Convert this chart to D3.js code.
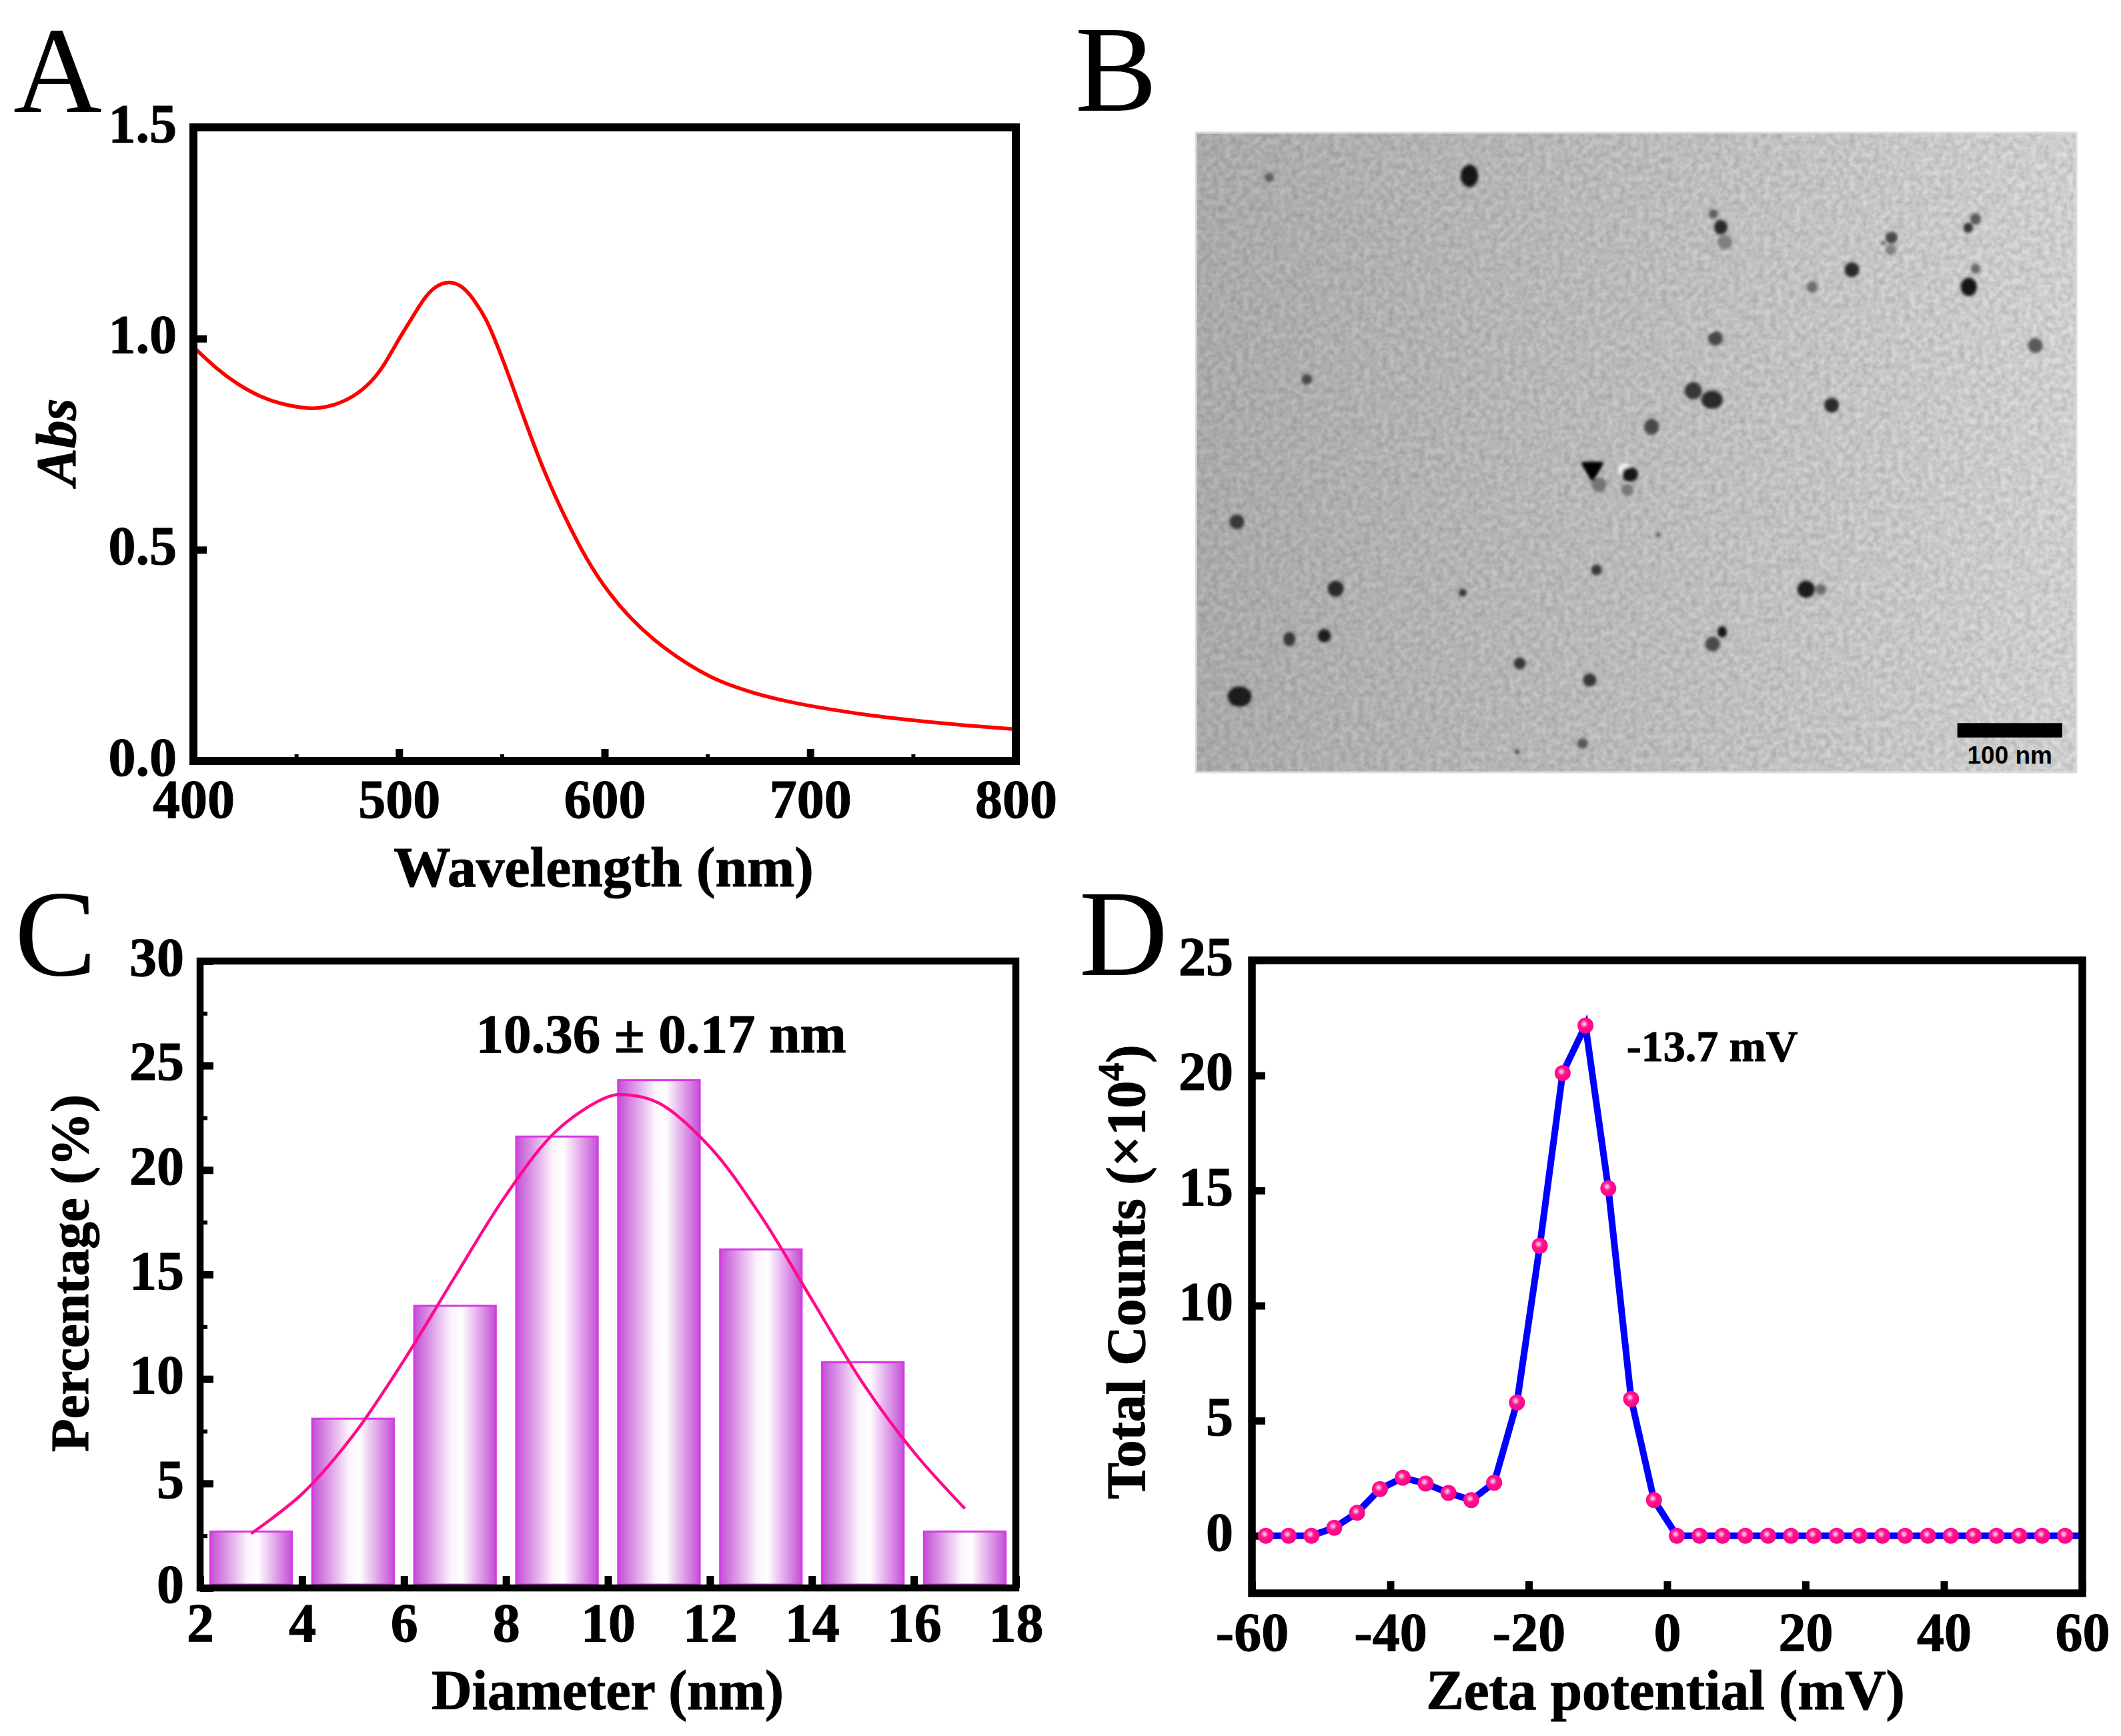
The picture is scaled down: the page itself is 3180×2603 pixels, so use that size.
<!DOCTYPE html>
<html>
<head>
<meta charset="utf-8">
<script src="https://d3js.org/d3.v7.min.js"></script>
<style>
  html, body { margin: 0; padding: 0; background: #fff; }
  text { font-family: "Liberation Serif", serif; font-weight: bold; fill: #000; stroke: #000; stroke-width: 1.1px; }
  .panel { font-weight: normal; font-size: 184px; stroke: none; }
  .plain { stroke: none; }
</style>
</head>
<body>
<svg id="fig" width="3180" height="2603"></svg>
<script>
  // A - absorbance spectrum
  var absWave = [400,410.8,421.6,432.4,443.3,454,460.6,469.2,477.9,486.5,493,499.5,506,512.5,517.9,524.4,530.8,536.3,542.7,548.1,553.6,558.9,569.8,580.6,591.4,602.2,613,623.8,634.6,645.5,656.3,672.5,688.7,700,725,750,775,800];
  var absVal = [0.98,0.93,0.891,0.862,0.844,0.835,0.834,0.843,0.862,0.896,0.938,0.996,1.046,1.099,1.125,1.137,1.125,1.094,1.045,0.98,0.91,0.837,0.692,0.577,0.474,0.396,0.335,0.287,0.248,0.214,0.187,0.160,0.141,0.130,0.110,0.096,0.084,0.075];

  // B - particles in the micrograph, read in field units
  var temX = [301,599,962,973,979,1227,1215,1226,1352,1341,1168,1109,1352,1342,965,1441,357,932,960,1138,870,792,838,834,1108,253,880,788,400,589,1100,1122,975,961,331,383,1345,674,778,257,767,670];
  var temY = [321,318,387,411,438,430,440,452,396,412,488,519,486,519,612,625,686,707,723,733,772,877,858,886,859,944,967,1031,1065,1072,1066,1066,1143,1165,1156,1150,1154,1200,1230,1260,1345,1360];
  var temR = [7,13,7,10,11,9,3,8,8,7,11,8,7,12,11,11,8,13,16,11,11,11,12,9,1.5,11,3.5,8,12,6,13,8,7,11,9,10,1.5,9,10,18,8,3.5];
  var temElong = [1.0,1.3,1.0,1.1,1.0,1.0,1.0,1.0,1.1,1.1,1.0,1.1,1.1,1.15,1.0,1.0,1.0,1.0,0.85,1.0,1.1,1.0,0.9,1.0,1.2,1.0,1.0,1.0,1.0,1.0,1.0,1.0,1.2,1.0,1.2,1.0,1.0,1.0,1.0,0.85,1.0,1.0];
  var temShade = ["#5e5e5e","#141414","#5e5e5e","#2c2c2c","#808080","#484848","#5a5a5a","#828282","#5a5a5a","#343434","#2c2c2c","#6e6e6e","#6a6a6a","#181818","#484848","#5a5a5a","#484848","#383838","#2a2a2a","#2c2c2c","#484848","#747474","#181818","#787878","#7a7a7a","#383838","#5a5a5a","#383838","#2c2c2c","#383838","#1c1c1c","#6a6a6a","#181818","#484848","#383838","#1e1e1e","#7a7a7a","#383838","#383838","#1c1c1c","#5a5a5a","#484848"];
  var triX = [782], triY = [848];
  var haloX = [830, 960, 596], haloY = [850, 600, 303], haloR = [10, 4, 4];

  // C - size histogram
  var diaCenter = [3,5,7,9,11,13,15,17];
  var diaPct = [2.7,8.1,13.5,21.6,24.3,16.2,10.8,2.7];
  var fitX = [3,4,5,6,7,8,9,10,10.36,11,12,13,14,15,16,17];
  var fitY = [2.6,4.5,7.3,10.9,14.9,18.8,21.9,23.5,23.6,23.2,21.1,17.8,13.8,9.8,6.5,3.8];

  // D - zeta potential
  var zetaX = [-58,-54.7,-51.4,-48.1,-44.8,-41.5,-38.2,-34.9,-31.6,-28.3,-25,-21.7,-18.4,-15.1,-11.8,-8.5,-5.2,-1.9,1.4,4.7,8,11.3,14.6,17.9,21.2,24.5,27.8,31.1,34.4,37.7,41,44.3,47.6,50.9,54.2,57.5];
  var zetaY = [0,0,0,0.35,1.0,2.03,2.52,2.27,1.86,1.55,2.3,5.79,12.6,20.1,22.17,15.1,5.94,1.55,0,0,0,0,0,0,0,0,0,0,0,0,0,0,0,0,0,0];

  var svg = d3.select("#fig");
  var defs = svg.append("defs");

  var barGrad = defs.append("linearGradient").attr("id", "barGrad");
  barGrad.append("stop").attr("offset", "0%").attr("stop-color", "#c44fd6");
  barGrad.append("stop").attr("offset", "45%").attr("stop-color", "#fbf3fb");
  barGrad.append("stop").attr("offset", "58%").attr("stop-color", "#ffffff");
  barGrad.append("stop").attr("offset", "100%").attr("stop-color", "#c44fd6");

  var dotGrad = defs.append("radialGradient").attr("id", "dotGrad").attr("cx", "42%").attr("cy", "40%").attr("r", "60%");
  dotGrad.append("stop").attr("offset", "0%").attr("stop-color", "#ffcfe8");
  dotGrad.append("stop").attr("offset", "15%").attr("stop-color", "#ff9fd0");
  dotGrad.append("stop").attr("offset", "40%").attr("stop-color", "#ff1290");
  dotGrad.append("stop").attr("offset", "100%").attr("stop-color", "#fb0585");

  var temGrad = defs.append("linearGradient").attr("id", "temGrad").attr("x1", "0").attr("y1", "0").attr("x2", "1").attr("y2", "0");
  temGrad.append("stop").attr("offset", "0%").attr("stop-color", "#b6b6b6");
  temGrad.append("stop").attr("offset", "50%").attr("stop-color", "#c8c8c8");
  temGrad.append("stop").attr("offset", "100%").attr("stop-color", "#dedede");

  var grain = defs.append("filter").attr("id", "grain").attr("x", 0).attr("y", 0).attr("width", "100%").attr("height", "100%");
  grain.append("feTurbulence").attr("type", "fractalNoise").attr("baseFrequency", 0.11).attr("numOctaves", 2).attr("seed", 4);
  grain.append("feColorMatrix").attr("type", "matrix").attr("values", "0 0 0 0 0  0 0 0 0 0  0 0 0 0 0  0.26 0 0 0 -0.06");

  var soft = defs.append("filter").attr("id", "soft");
  soft.append("feGaussianBlur").attr("stdDeviation", 2.2);

  function frame(box) {
    svg.append("rect")
      .attr("x", box.l).attr("y", box.t)
      .attr("width", box.r - box.l).attr("height", box.b - box.t)
      .attr("fill", "none").attr("stroke", "#000").attr("stroke-width", box.sw);
  }

  // inward ticks, no domain line, the frame takes care of that
  function axisX(box, x, major, minor, fmt, size) {
    if (minor) {
      svg.append("g").attr("transform", `translate(0,${box.b})`)
        .call(d3.axisTop(x).tickValues(minor).tickSize(10).tickFormat(""))
        .call(g => g.select(".domain").remove())
        .call(g => g.selectAll("line").attr("stroke", "#000").attr("stroke-width", 6));
    }
    var g = svg.append("g").attr("transform", `translate(0,${box.b})`)
      .call(d3.axisBottom(x).tickValues(major).tickSize(-18).tickPadding(box.xPad).tickFormat(fmt));
    g.select(".domain").remove();
    g.selectAll("line").attr("stroke", "#000").attr("stroke-width", 11);
    g.selectAll("text").style("font-size", size + "px");
  }

  function axisY(box, y, major, minor, fmt, size) {
    if (minor) {
      svg.append("g").attr("transform", `translate(${box.l},0)`)
        .call(d3.axisRight(y).tickValues(minor).tickSize(11).tickFormat(""))
        .call(g => g.select(".domain").remove())
        .call(g => g.selectAll("line").attr("stroke", "#000").attr("stroke-width", 6));
    }
    var g = svg.append("g").attr("transform", `translate(${box.l},0)`)
      .call(d3.axisLeft(y).tickValues(major).tickSize(-20).tickPadding(box.yPad).tickFormat(fmt));
    g.select(".domain").remove();
    g.selectAll("line").attr("stroke", "#000").attr("stroke-width", 11);
    g.selectAll("text").style("font-size", size + "px").attr("dy", "0.26em");
  }

  function label(txt, px, py, size, rotate, italic) {
    var t = svg.append("text").attr("text-anchor", "middle").style("font-size", size + "px").text(txt);
    t.attr("transform", rotate ? `translate(${px},${py}) rotate(-90)` : `translate(${px},${py})`);
    if (italic) t.style("font-style", "italic");
    return t;
  }

  function letter(txt, px, py) {
    svg.append("text").attr("class", "panel").attr("x", px).attr("y", py).text(txt);
  }

  var intFmt = d => String(d);

  /* ---- A ---- */
  var boxA = { l: 290, r: 1523, t: 191, b: 1141, xPad: 27, yPad: 25, sw: 12 };
  var xA = d3.scaleLinear().domain([400, 800]).range([boxA.l, boxA.r]);
  var yA = d3.scaleLinear().domain([0, 1.5]).range([boxA.b, boxA.t]);

  svg.append("path")
    .attr("d", d3.line().x(d => xA(d[0])).y(d => yA(d[1])).curve(d3.curveBasis)(d3.zip(absWave, absVal)))
    .attr("fill", "none").attr("stroke", "#ff0000").attr("stroke-width", 5.5);

  axisX(boxA, xA, [400,500,600,700,800], [450,550,650,750], intFmt, 82);
  axisY(boxA, yA, [0,0.5,1,1.5], null, d3.format(".1f"), 82);
  frame(boxA);
  label("Wavelength (nm)", 905, 1329, 85.5);
  label("Abs", 113, 663, 84, true, true);
  letter("A", 20, 168);

  /* ---- B ---- */
  var temBox = { l: 1793, r: 3113, t: 199, b: 1158 };
  var xT = d3.scaleLinear().domain([192, 1502]).range([temBox.l, temBox.r]);
  var yT = d3.scaleLinear().domain([240, 1397]).range([temBox.t, temBox.b]);

  svg.append("rect").attr("x", temBox.l).attr("y", temBox.t)
    .attr("width", temBox.r - temBox.l).attr("height", temBox.b - temBox.t)
    .attr("fill", "url(#temGrad)");
  svg.append("rect").attr("x", temBox.l).attr("y", temBox.t)
    .attr("width", temBox.r - temBox.l).attr("height", temBox.b - temBox.t)
    .attr("filter", "url(#grain)");
  svg.append("rect").attr("x", temBox.l).attr("y", temBox.t)
    .attr("width", temBox.r - temBox.l).attr("height", temBox.b - temBox.t)
    .attr("fill", "none").attr("stroke", "#dcdcdc").attr("stroke-width", 3);

  var temG = svg.append("g").attr("filter", "url(#soft)");

  temG.selectAll("ellipse.halo")
    .data(haloX)
    .join("ellipse")
    .attr("class", "halo")
    .attr("cx", d => xT(d))
    .attr("cy", (d, i) => yT(haloY[i]))
    .attr("rx", (d, i) => haloR[i])
    .attr("ry", (d, i) => haloR[i])
    .attr("fill", "#f0f0f0");

  temG.selectAll("ellipse.part")
    .data(temX)
    .join("ellipse")
    .attr("class", "part")
    .attr("cx", d => xT(d))
    .attr("cy", (d, i) => yT(temY[i]))
    .attr("rx", (d, i) => temR[i])
    .attr("ry", (d, i) => temR[i] * temElong[i])
    .attr("fill", (d, i) => temShade[i]);

  // the one triangular particle
  temG.selectAll("path.tri")
    .data(triX)
    .join("path")
    .attr("class", "tri")
    .attr("d", d3.symbol().type(d3.symbolTriangle).size(300))
    .attr("transform", (d, i) => `translate(${xT(d)},${yT(triY[i])}) rotate(180)`)
    .attr("fill", "#000").attr("stroke", "#000").attr("stroke-width", 6).attr("stroke-linejoin", "round");

  // scale bar
  svg.append("rect").attr("x", xT(1325)).attr("y", yT(1308))
    .attr("width", xT(1481) - xT(1325)).attr("height", yT(1334) - yT(1308)).attr("fill", "#000");
  svg.append("text").attr("class", "plain").attr("x", xT(1403)).attr("y", yT(1381))
    .attr("text-anchor", "middle")
    .style("font-family", '"Liberation Sans", sans-serif')
    .style("font-size", "37px").text("100 nm");
  letter("B", 1612, 166);

  /* ---- C ---- */
  var boxC = { l: 300, r: 1523, t: 1441, b: 2381, xPad: 22, yPad: 24, sw: 10.5 };
  var xC = d3.scaleLinear().domain([2, 18]).range([boxC.l, boxC.r]);
  var yC = d3.scaleLinear().domain([0, 30]).range([boxC.b, boxC.t]);
  var barW = 1.6;

  axisX(boxC, xC, d3.range(2, 19, 2), diaCenter, intFmt, 82);
  axisY(boxC, yC, d3.range(0, 31, 5), d3.range(2.5, 30, 5), intFmt, 82);

  svg.append("g").selectAll("rect")
    .data(diaPct)
    .join("rect")
    .attr("x", (d, i) => xC(diaCenter[i] - barW / 2))
    .attr("y", d => yC(d))
    .attr("width", xC(barW) - xC(0))
    .attr("height", d => yC(0) - yC(d) - 5)
    .attr("fill", "url(#barGrad)")
    .attr("stroke", "#d63be2").attr("stroke-width", 3);

  svg.append("path")
    .attr("d", d3.line().x(d => xC(d[0])).y(d => yC(d[1])).curve(d3.curveCatmullRom)(d3.zip(fitX, fitY)))
    .attr("fill", "none").attr("stroke", "#ff0a8c").attr("stroke-width", 4.5);
  frame(boxC);

  label("10.36 ± 0.17 nm", 991, 1578, 83);
  label("Diameter (nm)", 911, 2563, 84);
  label("Percentage (%)", 132, 1909, 81, true);
  letter("C", 22, 1462);

  /* ---- D ---- */
  var boxD = { l: 1877, r: 3122, t: 1440, b: 2389, xPad: 28, yPad: 28, sw: 11.5 };
  var xD = d3.scaleLinear().domain([-60, 60]).range([boxD.l, boxD.r]);
  var yD = d3.scaleLinear().domain([-2.5, 25]).range([boxD.b, boxD.t]);

  axisX(boxD, xD, d3.range(-60, 61, 20), null, intFmt, 82);
  axisY(boxD, yD, d3.range(0, 26, 5), null, intFmt, 82);

  // the line runs on to the frame past the last dot
  var zetaLine = d3.zip(zetaX, zetaY).concat([[60, 0]]);
  svg.append("path")
    .attr("d", d3.line().x(d => xD(d[0])).y(d => yD(d[1]))(zetaLine))
    .attr("fill", "none").attr("stroke", "#0000ff").attr("stroke-width", 10);

  svg.append("g").selectAll("circle")
    .data(zetaX)
    .join("circle")
    .attr("cx", d => xD(d))
    .attr("cy", (d, i) => yD(zetaY[i]))
    .attr("r", 12)
    .attr("fill", "url(#dotGrad)");
  frame(boxD);

  label("-13.7 mV", 2567, 1591, 66);
  label("Zeta potential (mV)", 2497, 2563, 85);
  var yTitle = label("Total Counts (×10", 1716, 1907, 82, true);
  yTitle.append("tspan").attr("dy", -32).style("font-size", "54px").text("4");
  yTitle.append("tspan").attr("dy", 32).text(")");
  letter("D", 1618, 1462);
</script>
</body>
</html>
